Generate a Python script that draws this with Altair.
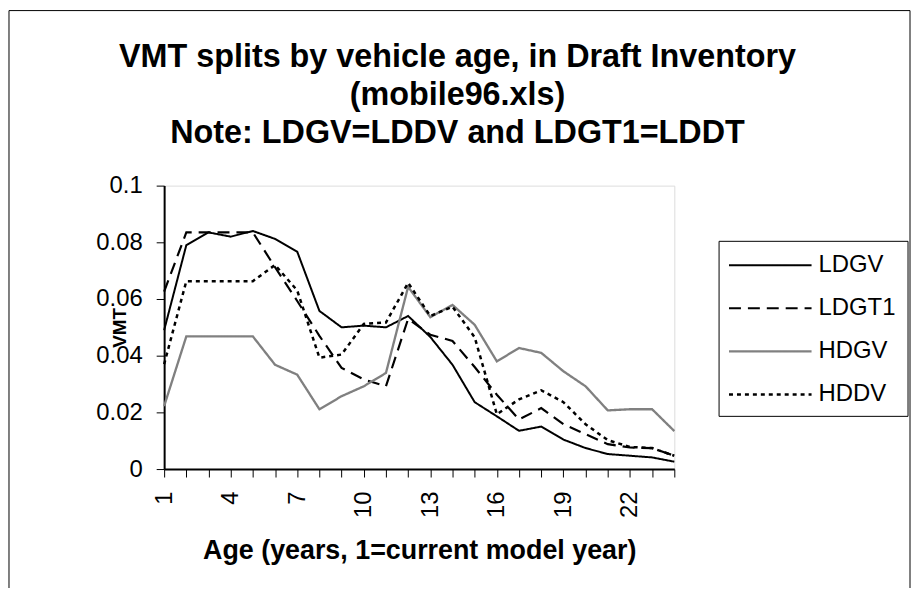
import altair as alt
import pandas as pd

FONT = "Liberation Sans"

ages = list(range(1, 25))
series_names = ["LDGV", "LDGT1", "HDGV", "HDDV"]

ldgv = [0.0490, 0.0790, 0.0835, 0.0820, 0.0840, 0.0812, 0.0767, 0.0558, 0.0500, 0.0506,
        0.0500, 0.0540, 0.0466, 0.0368, 0.0236, 0.0186, 0.0135, 0.0150, 0.0104, 0.0074,
        0.0053, 0.0047, 0.0041, 0.0026]
ldgt1 = [0.0626, 0.0835, 0.0835, 0.0835, 0.0835, 0.0712, 0.0593, 0.0470, 0.0357, 0.0316,
         0.0292, 0.0530, 0.0474, 0.0452, 0.0360, 0.0262, 0.0175, 0.0215, 0.0158, 0.0123,
         0.0088, 0.0076, 0.0074, 0.0047]
hdgv = [0.0222, 0.0468, 0.0468, 0.0468, 0.0468, 0.0368, 0.0333, 0.0211, 0.0257, 0.0292,
        0.0339, 0.0643, 0.0536, 0.0579, 0.0509, 0.0380, 0.0427, 0.0410, 0.0345, 0.0292,
        0.0207, 0.0211, 0.0211, 0.0134]
hddv = [0.0370, 0.0663, 0.0663, 0.0663, 0.0663, 0.0720, 0.0630, 0.0393, 0.0404, 0.0512,
        0.0517, 0.0657, 0.0540, 0.0573, 0.0465, 0.0193, 0.0246, 0.0278, 0.0236, 0.0158,
        0.0102, 0.0078, 0.0074, 0.0047]

title_lines = ["VMT splits by vehicle age, in Draft Inventory",
               "(mobile96.xls)",
               "Note: LDGV=LDDV and LDGT1=LDDT"]
y_ticks = [0, 0.02, 0.04, 0.06, 0.08, 0.1]
x_title = "Age (years, 1=current model year)"
y_title = "VMT"

rows = []
for name, vals in zip(series_names, [ldgv, ldgt1, hdgv, hddv]):
    for a, v in zip(ages, vals):
        rows.append({"age": a, "vmt": v, "series": name})
df = pd.DataFrame(rows)

leg_df = pd.DataFrame({"series": series_names, "idx": list(range(len(series_names)))})
one = pd.DataFrame({"a": [0]})

color_scale = alt.Scale(domain=series_names, range=["#000000", "#000000", "#808080", "#000000"])
dash_scale = alt.Scale(domain=series_names, range=[[1, 0], [12, 7], [1, 0], [4, 4]])
width_scale = alt.Scale(domain=series_names, range=[2, 2.5, 3, 2.5])

W, H = 513, 285

outer = alt.Chart(one).mark_rect(fill="transparent", stroke="#000000", strokeWidth=1).encode(
    x=alt.value(-156), x2=alt.value(750), y=alt.value(-176), y2=alt.value(600))

title_layers = []
for line, yy in zip(title_lines, [-119, -81, -43]):
    title_layers.append(
        alt.Chart(one).mark_text(text=line, align="center", baseline="alphabetic",
                                 fontSize=32.5, fontWeight="bold", font=FONT, color="black")
        .encode(x=alt.value(295), y=alt.value(yy)))

legend_box = alt.Chart(one).mark_rect(fill="white", stroke="#000000", strokeWidth=1).encode(
    x=alt.value(558), x2=alt.value(748), y=alt.value(56), y2=alt.value(232))

lines = alt.Chart(df).mark_line().encode(
    x=alt.X("age:Q",
            scale=alt.Scale(domain=[1, 24], nice=False, zero=False),
            axis=alt.Axis(values=ages, format="d", labelAngle=-90,
                          labelExpr="(datum.value - 1) % 3 == 0 ? datum.label : ''",
                          labelFontSize=24, labelFont=FONT, labelColor="black",
                          labelPadding=14, tickSize=8, tickColor="black", tickWidth=1,
                          domainColor="black", domainWidth=2, grid=False,
                          title=x_title, titleFontSize=27, titleFont=FONT, titleFontWeight="bold",
                          titleColor="black", titleY=90, titleBaseline="alphabetic")),
    y=alt.Y("vmt:Q",
            scale=alt.Scale(domain=[0, 0.1], nice=False),
            axis=alt.Axis(values=y_ticks, format="~g", labelFontSize=24, labelFont=FONT,
                          labelColor="black", labelPadding=14, tickSize=8, tickColor="black",
                          tickWidth=1, domainColor="black", domainWidth=2, grid=False,
                          title=y_title, titleFontSize=19, titleFont=FONT, titleFontWeight="bold",
                          titleColor="black", titleX=-45, titleY=142.5, titleAngle=-90,
                          titleAlign="center", titleBaseline="middle")),
    color=alt.Color("series:N", scale=color_scale, legend=None),
    strokeDash=alt.StrokeDash("series:N", scale=dash_scale, legend=None),
    strokeWidth=alt.StrokeWidth("series:O", scale=width_scale, legend=None),
)

leg_y = alt.Y("idx:Q", scale=alt.Scale(domain=[0, 3], range=[80, 210]), axis=None)

leg_lines = alt.Chart(leg_df).mark_rule().encode(
    x=alt.value(568), x2=alt.value(651), y=leg_y,
    color=alt.Color("series:N", scale=color_scale, legend=None),
    strokeDash=alt.StrokeDash("series:N", scale=dash_scale, legend=None),
    strokeWidth=alt.StrokeWidth("series:O", scale=width_scale, legend=None),
)

leg_text = alt.Chart(leg_df).mark_text(align="left", baseline="middle", fontSize=24,
                                       font=FONT, color="black").encode(
    x=alt.value(658), y=leg_y, text="series:N")

chart = alt.layer(outer, *title_layers, legend_box, lines, leg_lines, leg_text).resolve_scale(
    y="independent"
).properties(
    width=W, height=H,
    autosize=alt.AutoSizeParams(type="none"),
    padding={"left": 157, "top": 177, "right": 238, "bottom": 118},
).configure_view(stroke="black", strokeWidth=2).configure(background="white")

chart.save("out.html", embed_options={"renderer": "svg", "actions": False})
